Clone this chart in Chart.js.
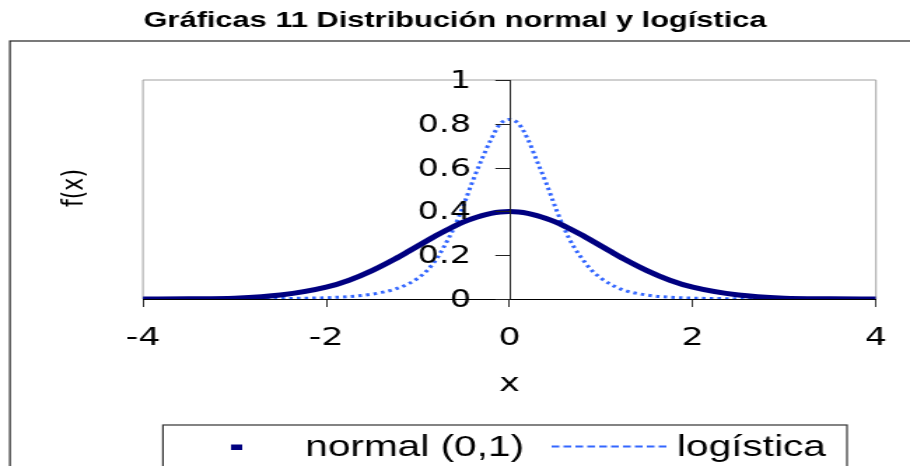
<!DOCTYPE html>
<html>
<head>
<meta charset="utf-8">
<script src="https://cdn.jsdelivr.net/npm/chart.js@4"></script>
<style>
  html, body { margin: 0; padding: 0; background: #fff; overflow: hidden; }
</style>
</head>
<body>
<!-- the original picture is stretched sideways, so the canvas is too -->
<canvas id="chart" width="650" height="466" style="display:block;width:910px;height:466px"></canvas>
<script>
// Data
const xValues = [-4, -3.5, -3, -2.5, -2, -1.75, -1.5, -1.25, -1.1, -1, -0.9, -0.8, -0.7, -0.6, -0.5, -0.4, -0.3, -0.2, -0.1, 0,
    0.1, 0.2, 0.3, 0.4, 0.5, 0.6, 0.7, 0.8, 0.9, 1, 1.1, 1.25, 1.5, 1.75, 2, 2.5, 3, 3.5, 4];
const normalValues = [0.000, 0.001, 0.004, 0.018, 0.054, 0.086, 0.130, 0.183, 0.218, 0.242, 0.266, 0.290, 0.312, 0.333, 0.352, 0.368, 0.381, 0.391, 0.397, 0.399,
    0.397, 0.391, 0.381, 0.368, 0.352, 0.333, 0.312, 0.290, 0.266, 0.242, 0.218, 0.183, 0.130, 0.086, 0.054, 0.018, 0.004, 0.001, 0.000];
const logisticValues = [0, 0, 0.001, 0.002, 0.006, 0.011, 0.022, 0.045, 0.07, 0.095, 0.13, 0.18, 0.25, 0.33, 0.43, 0.54, 0.64, 0.73, 0.80, 0.82,
    0.80, 0.73, 0.63, 0.53, 0.42, 0.32, 0.24, 0.18, 0.13, 0.095, 0.068, 0.04, 0.018, 0.008, 0.004, 0.001, 0, 0, 0];
const xTicks = [-4, -2, 0, 2, 4];
const seriesLabels = ['normal (0,1)', 'logística'];
const titleText = 'Gráficas 11 Distribución normal y logística';

const NAVY = '#000080';
const BLUE = '#3366ff';

function toPoints(values) {
    return values.map((y, i) => ({ x: xValues[i], y: y }));
}

// Frame, centred y axis, title and legend box
const decorations = {
    id: 'decorations',
    beforeDatasetsDraw(chart) {
        const { ctx, chartArea: a } = chart;
        ctx.save();
        ctx.strokeStyle = '#a0a0a0';
        ctx.lineWidth = 1;
        ctx.beginPath();
        ctx.moveTo(a.left, a.bottom);
        ctx.lineTo(a.left, a.top);
        ctx.lineTo(a.right, a.top);
        ctx.lineTo(a.right, a.bottom);
        ctx.stroke();
        ctx.restore();
    },
    afterDatasetsDraw(chart) {
        const { ctx, chartArea: a, scales: { x, y } } = chart;
        const x0 = Math.round(x.getPixelForValue(0)) + 0.5;
        ctx.save();
        ctx.strokeStyle = '#222';
        ctx.lineWidth = 1;
        ctx.beginPath();
        ctx.moveTo(x0, a.top);
        ctx.lineTo(x0, a.bottom);
        ctx.stroke();
        ctx.font = '24px "DejaVu Sans"';
        ctx.fillStyle = '#000';
        ctx.textAlign = 'right';
        ctx.textBaseline = 'middle';
        y.ticks.forEach(t => {
            const py = Math.round(y.getPixelForValue(t.value)) + 0.5;
            ctx.beginPath();
            ctx.moveTo(x0 - 10.7, py);
            ctx.lineTo(x0, py);
            ctx.stroke();
            ctx.fillText(String(Number(t.value.toFixed(1))), x0 - 28, py + 1);
        });
        ctx.restore();
    },
    afterDraw(chart) {
        const { ctx, width } = chart;
        ctx.save();
        // outer box
        ctx.strokeStyle = '#222';
        ctx.lineWidth = 1.2;
        ctx.strokeRect(7.1, 41, width + 20, 500);

        // title
        ctx.fillStyle = '#000';
        ctx.font = 'bold 22px "Liberation Sans"';
        ctx.textAlign = 'center';
        ctx.textBaseline = 'alphabetic';
        ctx.fillText(titleText, 325, 27);

        // y title
        ctx.save();
        ctx.translate(53, 188);
        ctx.rotate(-Math.PI / 2);
        ctx.font = '22px "DejaVu Sans"';
        ctx.textBaseline = 'middle';
        ctx.fillText('f(x)', 0, 0);
        ctx.restore();

        // legend
        ctx.strokeStyle = '#333';
        ctx.lineWidth = 1.2;
        ctx.strokeRect(116.4, 425, 488.6, 60);
        ctx.fillStyle = NAVY;
        ctx.fillRect(165, 444.5, 8, 5.5);
        ctx.strokeStyle = BLUE;
        ctx.lineWidth = 2;
        ctx.setLineDash([5.5, 3]);
        ctx.beginPath();
        ctx.moveTo(394, 446.5);
        ctx.lineTo(476, 446.5);
        ctx.stroke();
        ctx.setLineDash([]);
        ctx.fillStyle = '#000';
        ctx.font = '29px "Liberation Sans"';
        ctx.textAlign = 'left';
        ctx.fillText(seriesLabels[0], 218, 456);
        ctx.fillText(seriesLabels[1], 483.6, 456);
        ctx.restore();
    }
};

const canvas = document.getElementById('chart');
new Chart(canvas, {
    type: 'line',
    data: {
        datasets: [{
            label: seriesLabels[0],
            data: toPoints(normalValues),
            borderColor: NAVY,
            borderWidth: 5,
            pointRadius: 0,
            cubicInterpolationMode: 'monotone',
            fill: false
        }, {
            label: seriesLabels[1],
            data: toPoints(logisticValues),
            borderColor: BLUE,
            borderWidth: 3,
            borderDash: [2.5, 3],
            pointRadius: 0,
            cubicInterpolationMode: 'monotone',
            fill: false
        }]
    },
    options: {
        responsive: false,
        devicePixelRatio: 1,
        animation: false,
        layout: { padding: { top: 80, left: 102.1, right: 24.3, bottom: 67 } },
        plugins: {
            legend: { display: false },
            title: { display: false },
            tooltip: { enabled: false }
        },
        scales: {
            x: {
                type: 'linear',
                min: -4,
                max: 4,
                afterBuildTicks: s => { s.ticks = xTicks.map(v => ({ value: v })); },
                afterFit: s => { s.height = 100; },
                grid: { drawOnChartArea: false, drawTicks: true, tickLength: 8, color: '#333' },
                border: { display: true, color: '#000', width: 1 },
                ticks: {
                    font: { family: 'DejaVu Sans', size: 25 },
                    color: '#000',
                    padding: 16,
                    maxRotation: 0
                },
                title: {
                    display: true,
                    text: 'x',
                    font: { family: 'DejaVu Sans', size: 25 },
                    color: '#000',
                    padding: { top: 0, bottom: 0 }
                }
            },
            y: {
                type: 'linear',
                min: 0,
                max: 1,
                display: false,
                ticks: { stepSize: 0.2 }
            }
        }
    },
    plugins: [decorations]
});
// keep the sideways stretch even if the library rewrote the style
canvas.style.width = '910px';
canvas.style.height = '466px';
</script>
</body>
</html>
